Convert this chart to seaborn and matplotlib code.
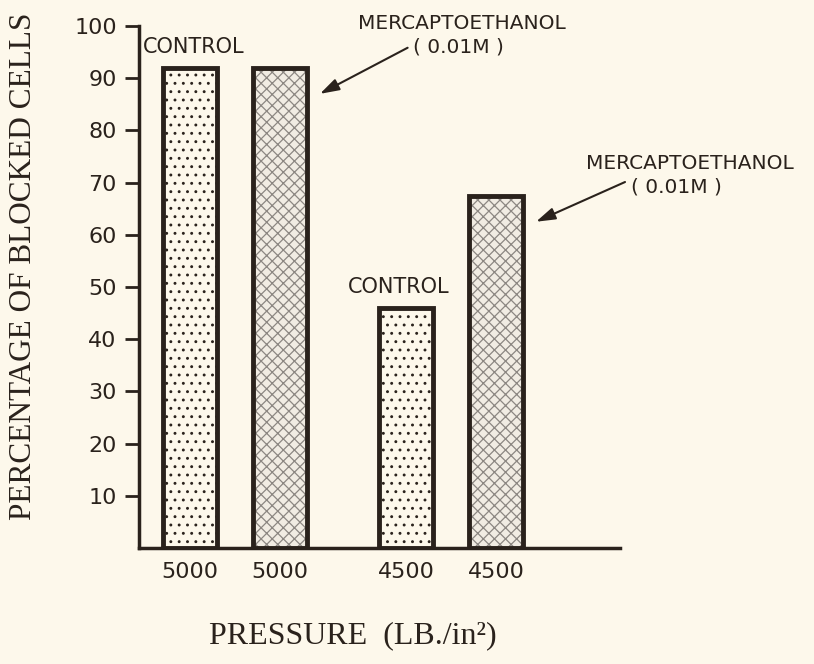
import numpy as np
import pandas as pd
import matplotlib
matplotlib.use("Agg")
import matplotlib.pyplot as plt
import matplotlib.colors as mcolors
import seaborn as sns

# values
pressure = ["5000", "5000", "4500", "4500"]
treatment = ["CONTROL", "MERCAPTOETHANOL", "CONTROL", "MERCAPTOETHANOL"]
blocked_pct = [92, 92, 46, 67.5]
y_ticks = [10, 20, 30, 40, 50, 60, 70, 80, 90, 100]

BG = "#FDF8EB"
INK = "#2A221C"
GREY = "#8C8782"

sns.set_theme(style="white")
plt.rcParams["font.family"] = ["DejaVu Sans"]
plt.rcParams["hatch.linewidth"] = 0.9

df = pd.DataFrame({"pressure": pressure, "treatment": treatment, "pct": blocked_pct})

fig = plt.figure(figsize=(8.14, 6.64), dpi=100, facecolor=BG)
ax = fig.add_axes([139 / 814, 116 / 664, 481 / 814, 522 / 664])
ax.set_facecolor(BG)

sns.barplot(data=df, x="pressure", y="pct", hue="treatment",
            order=["5000", "4500"], hue_order=["CONTROL", "MERCAPTOETHANOL"],
            width=0.833, gap=0.4, dodge=True, legend=False, ax=ax,
            palette=[BG, "#F1ECE3"], edgecolor=INK, linewidth=3, saturation=1)

bars = sorted(ax.patches, key=lambda p: p.get_x())
for bar, trt in zip(bars, treatment):
    bar.set_edgecolor(INK)
    bar.set_linewidth(3.5)
    if trt == "CONTROL":
        bar.set_hatch("..")
        bar._hatch_color = mcolors.to_rgba(INK)
    else:
        bar.set_hatch("xxx")
        bar._hatch_color = mcolors.to_rgba(GREY)

ax.set_xlim(-0.444, 1.782)
ax.set_ylim(0, 100)

centers = [b.get_x() + b.get_width() / 2 for b in bars]
ax.set_xticks(centers)
ax.set_xticklabels(pressure, fontsize=16, color=INK)
ax.set_yticks(y_ticks)
ax.set_yticklabels([str(t) for t in y_ticks], fontsize=16, color=INK)
ax.tick_params(axis="y", direction="out", length=10, width=2, color=INK, pad=6, left=True)
ax.tick_params(axis="x", length=0, pad=10)

for side in ["top", "right"]:
    ax.spines[side].set_visible(False)
for side in ["left", "bottom"]:
    ax.spines[side].set_color(INK)
    ax.spines[side].set_linewidth(2.5)

ax.set_xlabel("PRESSURE  (LB./in²)", fontsize=23, color=INK, family="Liberation Serif")
ax.xaxis.set_label_coords(0.445, -0.14)
ax.set_ylabel("PERCENTAGE OF BLOCKED CELLS", fontsize=22.5, color=INK, family="Liberation Serif")
ax.yaxis.set_label_coords(-0.21, 0.54)

# labels above control bars
control_offsets = [(3, 8), (-5, 8)]
control_bars = [b for b, t in zip(bars, treatment) if t == "CONTROL"]
for bar, off in zip(control_bars, control_offsets):
    ax.annotate("CONTROL", xy=(bar.get_x() + bar.get_width() / 2, bar.get_height()),
                xytext=off, textcoords="offset points", ha="center", va="bottom",
                fontsize=15, color=INK)

# arrows pointing to the mercaptoethanol bars: (note offset, name offset, arrow start)
merc_layout = [((100, 34), (102, 51), (0, 0.6)),
               ((101, 25), (111, 42), (0, 0.9))]
merc_bars = [b for b, t in zip(bars, treatment) if t != "CONTROL"]
for bar, (off, name_off, rel) in zip(merc_bars, merc_layout):
    tip = (bar.get_x() + bar.get_width() + 0.06, bar.get_height() - 5)
    ax.annotate("( 0.01M )", xy=tip, xytext=off, textcoords="offset points",
                ha="center", va="center", fontsize=14.5, color=INK,
                arrowprops=dict(arrowstyle="-|>,head_length=0.8,head_width=0.25",
                                color=INK, lw=1.5, relpos=rel, shrinkA=2, shrinkB=0))
    ax.annotate("MERCAPTOETHANOL", xy=tip, xytext=name_off,
                textcoords="offset points", ha="center", va="center",
                fontsize=14.5, color=INK)

fig.savefig("out.png", dpi=100, facecolor=BG)
